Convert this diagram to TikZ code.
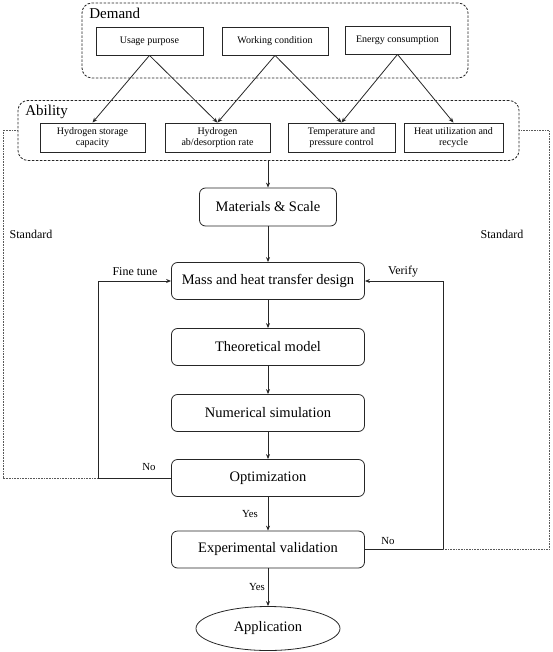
\documentclass[tikz,border=0pt]{standalone}
\usepackage{fontspec}
\setmainfont{Liberation Serif}
\usetikzlibrary{arrows.meta,shapes.geometric,calc}
\begin{document}
\begin{tikzpicture}[x=1pt,y=-1pt,
  line width=0.8pt,
  arr/.style={draw=black!85,-{Stealth[length=5pt,width=4pt]}},
  sbox/.style={draw=black!85, rectangle, minimum height=28pt, inner sep=1pt,
    font=\fontsize{10}{11.5}\selectfont, align=center},
  mbox/.style={draw=black!85, rounded corners=6pt, minimum width=193pt, minimum height=37pt,
    font=\fontsize{14.5}{17}\selectfont},
  grp/.style={draw=black!85, dash pattern=on 2.5pt off 1.5pt, rounded corners=10pt, inner sep=0pt},
  stdline/.style={draw=black!65, dash pattern=on 0.8pt off 0.8pt, line width=0.8pt},
  grplab/.style={font=\fontsize{15}{17}\selectfont, inner sep=0pt, anchor=base west},
  lab/.style={font=\fontsize{12}{14}\selectfont, inner sep=1pt},
  yn/.style={font=\fontsize{10.8}{13}\selectfont, inner sep=1pt},
]
\useasboundingbox (0,0) rectangle (552,652);

% group boxes
\node[grp, minimum width=386pt, minimum height=75pt] (demand) at (275,40.5) {};
\node[grp, minimum width=501pt, minimum height=60pt] (ability) at (268.5,130.5) {};
\node[grplab] (demandlab) at (89,19) {Demand};
\node[grplab] (abilitylab) at (25,116) {Ability};

% demand boxes
\node[sbox, minimum width=107pt] (usage) at (149.5,41) {Usage purpose};
\node[sbox, minimum width=106pt] (work) at (275,41) {Working condition};
\node[sbox, minimum width=105pt] (energy) at (397.5,40) {Energy consumption};

% ability boxes
\node[sbox, minimum width=105pt, minimum height=29pt] (stor) at (92.5,137.5) {Hydrogen storage\\capacity};
\node[sbox, minimum width=105pt, minimum height=29pt] (rate) at (217.5,137.5) {Hydrogen\\ab/desorption rate};
\node[sbox, minimum width=107pt, minimum height=29pt] (temp) at (341.5,137.5) {Temperature and\\pressure control};
\node[sbox, minimum width=99pt, minimum height=29pt] (heat) at (453.5,137.5) {Heat utilization and\\recycle};

\draw[arr] (usage.south) -- (stor.north);
\draw[arr] (usage.south) -- (rate.north);
\draw[arr] (work.south) -- (rate.north);
\draw[arr] (work.south) -- (temp.north);
\draw[arr] (energy.south) -- (temp.north);
\draw[arr] (energy.south) -- (heat.north);

% main flow
\node[mbox, minimum width=137pt, minimum height=38pt] (mat) at (268,207) {Materials \& Scale};
\node[mbox] (mass) at (268,281) {Mass and heat transfer design};
\node[mbox] (theo) at (268,347) {Theoretical model};
\node[mbox] (num) at (268,413) {Numerical simulation};
\node[mbox] (opt) at (268,478) {Optimization};
\node[mbox] (exp) at (268,549.5) {Experimental validation};
\node[draw=black!85, ellipse, minimum width=144pt, minimum height=44pt, inner sep=0pt,
  font=\fontsize{14.5}{17}\selectfont] (app) at (268,628.5) {Application};

\draw[arr] (ability.south -| mat.north) -- (mat.north);
\draw[arr] (mat) -- (mass);
\draw[arr] (mass) -- (theo);
\draw[arr] (theo) -- (num);
\draw[arr] (num) -- (opt);
\draw[arr] (opt) -- (exp);
\draw[arr] (exp) -- (app);

% feedback loops
\coordinate (lft) at (98,478);
\coordinate (rgt) at (443,549.5);
\draw[arr] (opt.west) -- (lft) |- (mass.west);
\draw[arr] (exp.east) -- (rgt) |- (mass.east);

% standard dotted lines
\coordinate (dlt) at (3,130.5);
\coordinate (drt) at (549,130.5);
\draw[stdline] (ability.west) -- (dlt) |- (lft);
\draw[stdline] (ability.east) -- (drt) |- (rgt);

% labels
\node[lab] (stdl) at (31,234) {Standard};
\node[lab] (stdr) at (502,234) {Standard};
\node[lab] (fine) at (135,272) {Fine tune};
\node[lab] (ver) at (403,272) {Verify};
\node[yn] (nol) at (149,467) {No};
\node[yn] (yes1) at (250,514) {Yes};
\node[yn] (nor) at (388,541) {No};
\node[yn] (yes2) at (257,587) {Yes};
\end{tikzpicture}
\end{document}
